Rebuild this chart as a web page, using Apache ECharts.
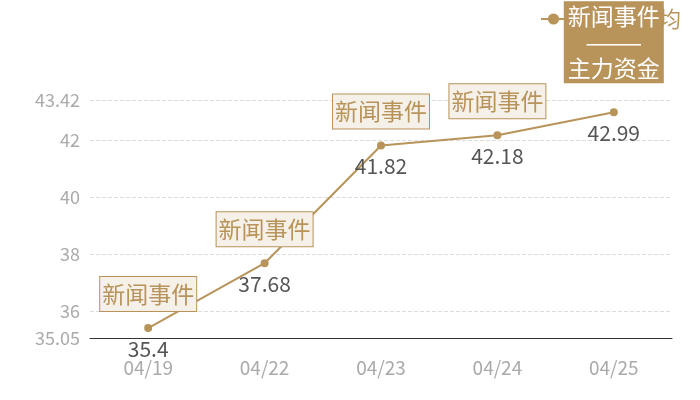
<!DOCTYPE html>
<html><head><meta charset="utf-8">
<script src="https://cdn.jsdelivr.net/npm/echarts@6/dist/echarts.min.js"></script>
<style>html,body{margin:0;padding:0;background:#fff}#c{width:700px;height:400px}</style>
</head><body><div id="c"></div>
<script>
const categories = ['04/19', '04/22', '04/23', '04/24', '04/25'];
const prices = [35.4, 37.68, 41.82, 42.18, 42.99];
const eventLabels = ['新闻事件', '新闻事件', '新闻事件', '新闻事件', '新闻事件\n———\n主力资金'];
const seriesName = '主力资金均';
const yMin = 35.05, yMax = 43.42;

const gold = '#b8935a';
const font = 'Noto Sans CJK SC';
const chart = echarts.init(document.getElementById('c'));

const eventData = prices.map((v, i) => {
  const item = { value: v };
  if (i === prices.length - 1) {
    item.label = {
      backgroundColor: gold, color: '#fff', borderColor: gold,
      lineHeight: 26, padding: [1, 3], distance: 30
    };
  }
  return item;
});

chart.setOption({
  animation: false,
  textStyle: { fontFamily: font },
  legend: {
    data: [seriesName], right: 14, top: 3, itemWidth: 25, itemHeight: 14,
    textStyle: { color: gold, fontSize: 22, fontFamily: font }
  },
  grid: { left: 90, right: 28, top: 100, bottom: 62 },
  xAxis: {
    type: 'category', data: categories, boundaryGap: true,
    axisLine: { lineStyle: { color: '#333' } },
    axisTick: { show: false },
    axisLabel: { color: '#aaa', fontSize: 19, margin: 20, fontFamily: font }
  },
  yAxis: {
    type: 'value', min: yMin, max: yMax, scale: true,
    axisLine: { show: false }, axisTick: { show: false },
    axisLabel: { color: '#aaa', fontSize: 18, margin: 10, fontFamily: font },
    splitLine: { lineStyle: { color: '#ddd', type: 'dashed' } }
  },
  series: [
    {
      name: seriesName, type: 'line', data: prices,
      symbol: 'circle', symbolSize: 8,
      itemStyle: { color: gold }, lineStyle: { color: gold, width: 2 },
      label: { show: true, position: 'bottom', distance: 6, color: '#555', fontSize: 21, fontFamily: font }
    },
    {
      name: '新闻事件', type: 'scatter', data: eventData, symbolSize: 0, z: 10,
      silent: true,
      itemStyle: { opacity: 1 },
      label: {
        show: true, position: 'top', distance: 17, opacity: 1,
        formatter: p => eventLabels[p.dataIndex],
        color: gold, fontSize: 23, fontFamily: font,
        backgroundColor: '#f5f0e8', borderColor: gold, borderWidth: 1,
        padding: [3, 2], lineHeight: 28
      }
    }
  ]
});
</script></body></html>
